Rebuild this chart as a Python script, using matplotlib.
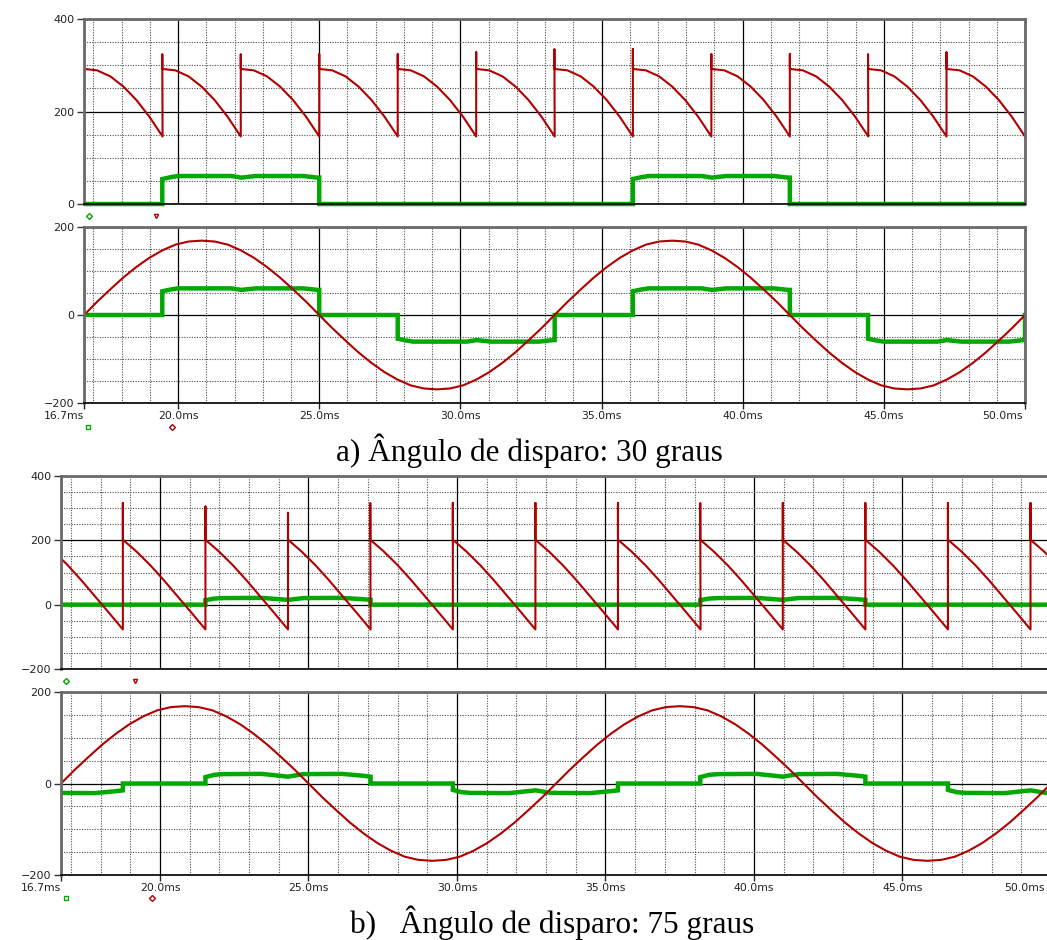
import numpy as np
import matplotlib.pyplot as plt
from matplotlib.transforms import Bbox, TransformedBbox, ScaledTranslation, blended_transform_factory

W, H = 1047, 940
T0, T1 = 16.667, 50.0

RED = '#b00000'
GREEN = '#00a800'

# tensao da fonte (fase a), lida a cada 10 graus (0.463 ms)
src_step = 0.463
src_v = [0, 30, 58, 85, 109, 130, 147, 160, 167, 169, 167, 160, 147, 130, 109, 85, 58, 30,
         0, -30, -58, -85, -109, -130, -147, -160, -167, -169, -167, -160, -147, -130, -109, -85, -58, -30,
         0, 30, 58, 85, 109, 130, 147, 160, 167, 169, 167, 160, 147, 130, 109, 85, 58, 30,
         0, -30, -58, -85, -109, -130, -147, -160, -167, -169, -167, -160, -147, -130, -109, -85, -58, -30,
         0]

# trecho de tensao na carga entre dois disparos (ms desde o disparo)
seg_dt = [0.0, 0.46, 0.93, 1.39, 1.85, 2.31, 2.78]

# a) angulo de disparo 30 graus
a_fire = [16.67, 19.44, 22.22, 25.00, 27.78, 30.56, 33.33, 36.11, 38.89, 41.67, 44.44, 47.22]
a_spike = [0, 324, 324, 324, 324, 328, 335, 335, 324, 324, 324, 328]
a_seg_v = [292, 289, 276, 254, 225, 189, 146]
a_pulse_dt = [0.0, 0.3, 0.55, 2.45, 2.8, 3.3, 5.0, 5.5, 5.56]
a_pulse_i = [54, 58, 60.5, 60.5, 57, 60.5, 60.5, 57, 57]
a_thy_on = [19.44, 36.11]
a_line_on = [19.44, 27.78, 36.11, 44.44]
a_line_sign = [1, -1, 1, -1]

# b) angulo de disparo 75 graus
b_fire = [15.97, 18.75, 21.53, 24.31, 27.08, 29.86, 32.64, 35.42, 38.19, 40.97, 43.75, 46.53, 49.31]
b_spike = [0, 316, 305, 286, 316, 316, 316, 316, 316, 316, 316, 316, 316]
b_seg_v = [202, 165, 122, 75, 25, -25, -77]
b_pulse_dt = [0.0, 0.3, 0.6, 1.9, 2.78, 3.3, 4.6, 5.3, 5.56]
b_pulse_i = [14, 19, 20.5, 21, 15, 20.5, 21, 17, 15]
b_thy_on = [21.53, 38.19]
b_line_on = [13.19, 21.53, 29.86, 38.19, 46.53]
b_line_sign = [-1, 1, -1, 1, -1]

x_major = [T0, 20, 25, 30, 35, 40, 45, 50]
x_labels = ['16.7ms', '20.0ms', '25.0ms', '30.0ms', '35.0ms', '40.0ms', '45.0ms', '50.0ms']


def chopped(fire, spike, v):
    t, y = [], []
    for s, sp in zip(fire, spike):
        if sp:
            t += [s, s]
            y += [sp, v[0]]
        t += [s + d for d in seg_dt]
        y += list(v)
    return t, y


def pulses(starts, signs, dt, cur):
    t, y = [min(T0, starts[0])], [0]
    for s, sg in zip(starts, signs):
        t += [s] + [s + d for d in dt] + [s + dt[-1]]
        y += [0] + [sg * c for c in cur] + [0]
    t.append(T1 + 1)
    y.append(0)
    return t, y


fig = plt.figure(figsize=(W / 100, H / 100), dpi=100)


def panel(box, ylim, yticks, bottom_labels, last_shift=0):
    x0, y0, x1, y1 = box
    ax = fig.add_axes([x0 / W, 1 - y1 / H, (x1 - x0) / W, (y1 - y0) / H])
    ax.set_xlim(T0, T1)
    ax.set_ylim(*ylim)
    ax.set_axisbelow(True)
    ax.set_yticks(yticks)
    ax.set_yticks(np.arange(ylim[0], ylim[1] + 1, 50), minor=True)
    ax.set_xticks(x_major)
    ax.set_xticks(np.arange(17, 50), minor=True)
    ax.grid(which='major', color='black', lw=0.9)
    ax.grid(which='minor', color='#505050', ls=(0, (1, 1.3)), lw=0.8)
    ax.tick_params(which='minor', length=0)
    ax.tick_params(axis='y', which='major', length=5, width=1, color='#333333',
                   labelsize=8, pad=2, labelcolor='#222222')
    if bottom_labels:
        ax.set_xticklabels(x_labels)
        ax.tick_params(axis='x', which='major', length=4, width=1, color='#222222',
                       labelsize=7.8, pad=2, labelcolor='#222222')
        labs = ax.get_xticklabels()
        labs[0].set_ha('right')
        labs[-1].set_ha('right')
        if last_shift:
            labs[-1].set_transform(labs[-1].get_transform() +
                                   ScaledTranslation(-last_shift / 100, 0, fig.dpi_scale_trans))
    else:
        ax.tick_params(axis='x', which='major', length=0, labelbottom=False)
    for side in ['left', 'top', 'right']:
        ax.spines[side].set_color('#6a6a6a')
        ax.spines[side].set_linewidth(2)
    ax.spines['bottom'].set_color('black')
    ax.spines['bottom'].set_linewidth(1.2)
    return ax


def draw_green(ax, t, y):
    ln, = ax.plot(t, y, color=GREEN, lw=3.2, solid_joinstyle='miter')
    ln.set_clip_box(TransformedBbox(Bbox([[0, -0.05], [1, 1.05]]), ax.transAxes))


def draw_red(ax, t, y):
    ax.plot(t, y, color=RED, lw=1.5)


def cursors(ax, ypos, items):
    tr = blended_transform_factory(ax.transData, ax.transAxes)
    for x, m, c in items:
        ax.plot([x], [ypos], marker=m, ms=3, mfc='none', mec=c, mew=1,
                transform=tr, clip_on=False)


t_src = [T0 + src_step * k for k in range(len(src_v))]

# a) topo: tensao na carga e corrente no tiristor
ax = panel((84, 19, 1025, 204), (0, 400), [0, 200, 400], False)
draw_green(ax, *pulses(a_thy_on, [1, 1], a_pulse_dt, a_pulse_i))
draw_red(ax, *chopped(a_fire, a_spike, a_seg_v))
cursors(ax, -0.065, [(16.85, 'D', GREEN), (19.2, 'v', RED)])

# a) baixo: tensao e corrente de fase
ax = panel((84, 227, 1025, 403), (-200, 200), [-200, 0, 200], True, last_shift=2)
draw_green(ax, *pulses(a_line_on, a_line_sign, a_pulse_dt, a_pulse_i))
draw_red(ax, t_src, src_v)
cursors(ax, -0.136, [(16.81, 's', GREEN), (19.78, 'D', RED)])

# b) topo
ax = panel((61, 476, 1051, 669), (-200, 400), [-200, 0, 200, 400], False)
draw_green(ax, *pulses(b_thy_on, [1, 1], b_pulse_dt, b_pulse_i))
draw_red(ax, *chopped(b_fire, b_spike, b_seg_v))
cursors(ax, -0.062, [(16.83, 'D', GREEN), (19.15, 'v', RED)])

# b) baixo
ax = panel((61, 692, 1051, 875), (-200, 200), [-200, 0, 200], True, last_shift=6)
draw_green(ax, *pulses(b_line_on, b_line_sign, b_pulse_dt, b_pulse_i))
draw_red(ax, t_src, src_v)
cursors(ax, -0.126, [(16.83, 's', GREEN), (19.72, 'D', RED)])

fig.text(336 / W, 1 - 461 / H, 'a) Ângulo de disparo: 30 graus', family='Liberation Serif',
         fontsize=22.5, ha='left', va='baseline')
fig.text(350 / W, 1 - 933 / H, 'b)   Ângulo de disparo: 75 graus', family='Liberation Serif',
         fontsize=22.5, ha='left', va='baseline')

fig.savefig('out.png', dpi=100)
